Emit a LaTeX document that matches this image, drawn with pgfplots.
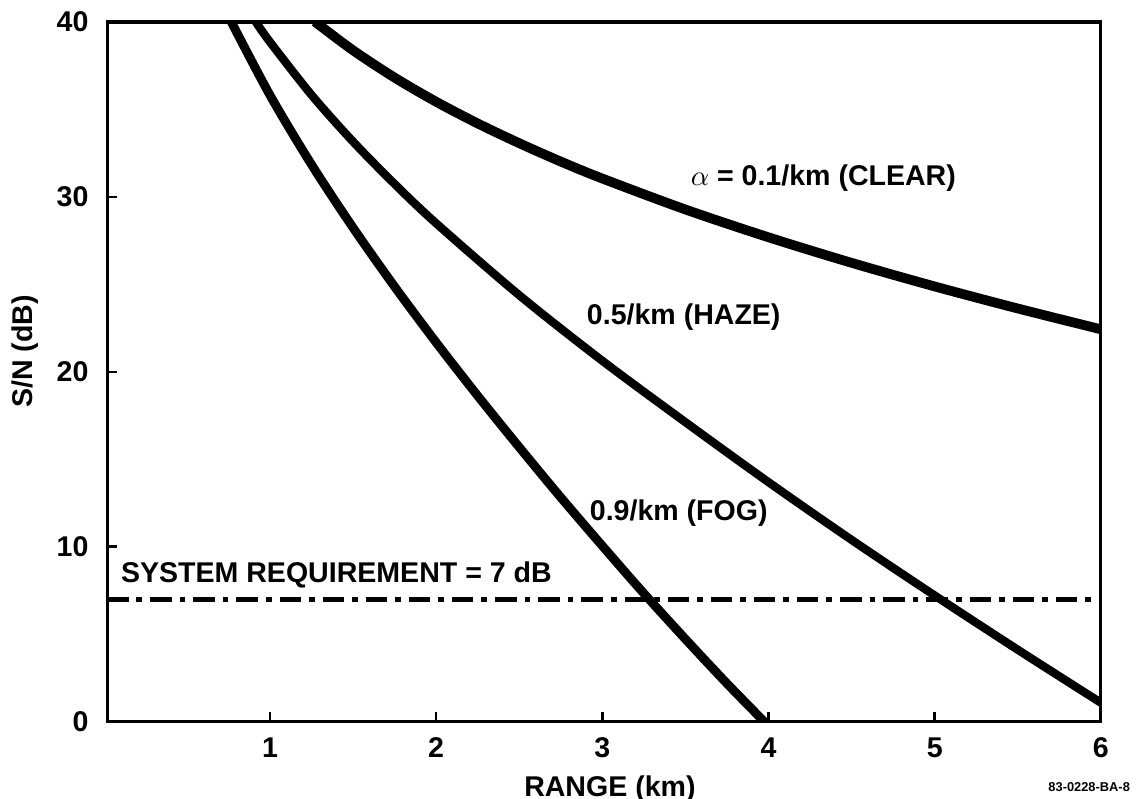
\documentclass[border=0pt]{standalone}
\usepackage{pgfplots}
\pgfplotsset{compat=1.18}
\usepackage{fontspec}
\setmainfont{Liberation Sans}
\begin{document}
\begin{tikzpicture}[font=\fontsize{10}{12}\selectfont\bfseries]
\begin{axis}[
  scale only axis, width=348pt, height=245pt,
  xmin=0.02, xmax=6, ymin=0, ymax=40,
  xtick={1,2,3,4,5,6}, ytick={10,20,30},
  extra y ticks={0,40}, extra y tick style={major tick length=0pt},
  xtick pos=bottom, ytick pos=left, tick align=inside,
  major tick length=3.5pt,
  every tick/.style={black, line width=0.9pt},
  axis line style={line width=1.1pt},
  /pgf/number format/assume math mode=true,
  ticklabel style={font=\fontsize{10}{12}\selectfont\bfseries},
  yticklabel style={xshift=-3pt},
  xticklabel style={yshift=-2pt},
  xlabel={RANGE (km)},
  xlabel style={at={(axis description cs:0.506,0)}, anchor=north, yshift=-15.5pt},
  clip=true,
]
% alpha = 0.1/km (clear)
\addplot[black, line width=3.4pt, smooth] coordinates {
 (1.27,40.02) (1.5,38.38) (1.75,36.82) (2.0,35.44) (2.25,34.20) (2.5,33.07)
 (2.75,32.02) (3.0,31.05) (3.5,29.28) (4.0,27.69) (4.5,26.23) (5.0,24.88)
 (5.5,23.62) (6.0,22.43)};
% 0.5/km (haze)
\addplot[black, line width=2.9pt, smooth] coordinates {
 (0.915,40.0) (1.0,38.86) (1.25,35.83) (1.5,33.16) (1.75,30.74) (2.0,28.49)
 (2.5,24.38) (3.0,20.63) (3.5,17.12) (4.0,13.69) (4.5,10.39) (5.0,7.21)
 (5.5,4.11) (6.0,1.08)};
% 0.9/km (fog)
\addplot[black, line width=3.1pt, smooth] coordinates {
 (0.765,40.05) (1.0,35.82) (1.25,31.85) (1.5,28.24) (1.75,24.87) (2.0,21.68)
 (2.25,18.63) (2.5,15.69) (2.75,12.82) (3.0,10.05) (3.25,7.33) (3.5,4.72)
 (3.75,2.18) (4.0,-0.25)};
% system requirement
\addplot[black, line width=1.7pt, dash pattern=on 7.5pt off 2.8pt on 2pt off 2.8pt] coordinates {(0.02,7) (6,7)};
\node[anchor=center] at (axis cs:4.33,31.1) {$\alpha$ = 0.1/km (CLEAR)};
\node[anchor=center] at (axis cs:3.49,23.1) {0.5/km (HAZE)};
\node[anchor=center] at (axis cs:3.46,11.9) {0.9/km (FOG)};
\node[anchor=center] at (axis cs:1.40,8.4) {SYSTEM REQUIREMENT = 7 dB};
\coordinate (sw) at (rel axis cs:0,0);
\coordinate (ne) at (rel axis cs:1,1);
\coordinate (yl) at (rel axis cs:0,0.529);
\end{axis}
\node[rotate=90, anchor=center] at ([xshift=-28.7pt]yl) {S/N (dB)};
\node[font=\fontsize{4.5}{5}\selectfont\bfseries, anchor=east] at ([xshift=13.7pt,yshift=-22.8pt]sw -| ne) {83-0228-BA-8};
\pgfresetboundingbox
\useasboundingbox ([xshift=-37.5pt,yshift=-27pt]sw) rectangle ([xshift=14.4pt,yshift=7.7pt]ne);
\end{tikzpicture}
\end{document}
